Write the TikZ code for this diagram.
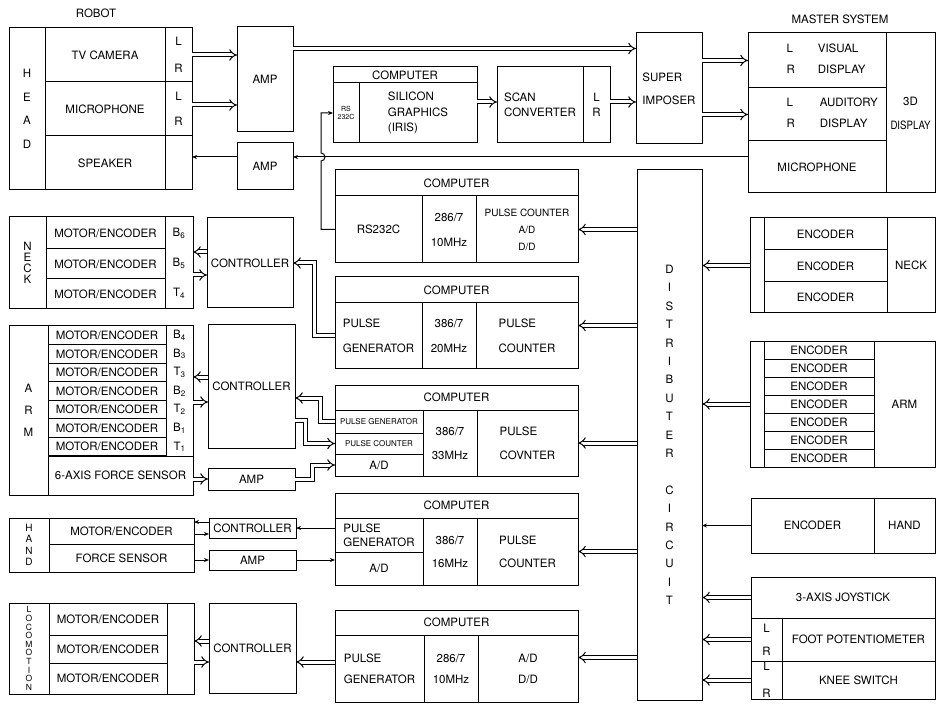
\documentclass[tikz,border=0pt]{standalone}
\usepackage{fontspec}
\usepackage{graphicx}
\setmainfont{TeX Gyre Heros}
\usetikzlibrary{arrows.meta}

\tikzset{
  cell/.style={draw, line width=1pt, inner sep=0pt, outer sep=0pt, align=center, font=\fontsize{11.5}{13}\selectfont},
  lskip/.style={font=\fontsize{11.5}{#1}\selectfont},
  smalltxt/.style={font=\fontsize{8}{9}\selectfont},
  dbl/.style={double, double distance=3pt, line width=1pt, -{Implies}},
  sgl/.style={line width=1pt, -{Stealth[length=5pt,width=4pt]}},
}

% a cell from its corners (x1,y1) (x2,y2)
\newcommand{\blk}[7][]{%
  \pgfmathsetmacro\blkw{(#5)-(#3)}%
  \pgfmathsetmacro\blkh{(#6)-(#4)}%
  \node[cell, minimum width=\blkw pt, minimum height=\blkh pt, #1] (#2) at ({((#3)+(#5))/2},{((#4)+(#6))/2}) {#7};}

\begin{document}
\begin{tikzpicture}[x=1pt, y=-1pt, font=\fontsize{11.5}{13}\selectfont]
\useasboundingbox (0,0) rectangle (937,711);

\node(robot) at (96,13) {ROBOT};
\node(master) at (840,19) {MASTER SYSTEM};

% robot head
\blk[lskip=23.5]{headlbl}{9}{28}{45}{190}{H\\E\\A\\D}
\blk{tvcam}{45}{28}{165}{82}{TV CAMERA}
\blk{mic}{45}{82}{165}{136}{MICROPHONE}
\blk{speaker}{45}{136}{165}{190}{SPEAKER}
\blk[lskip=27]{tvlr}{165}{28}{192}{82}{L\\R}
\blk[lskip=25]{miclr}{165}{82}{192}{136}{L\\R}
\blk{spklr}{165}{136}{192}{190}{}
\blk{amp1}{237}{27}{293}{132}{AMP}
\blk{amp2}{237}{143}{293}{190}{AMP}

\blk{irishd}{333}{67}{477}{83}{COMPUTER}
\blk[font=\fontsize{7}{8}\selectfont]{rs232}{333}{83}{359}{143}{RS\\232C}
\blk[lskip=15.5, align=left]{iris}{359}{83}{477}{143}{SILICON\\GRAPHICS\\(IRIS)}
\blk[lskip=15, align=left]{scan}{497}{67}{583}{143}{SCAN\\CONVERTER}
\blk[lskip=15]{scanlr}{583}{67}{610}{143}{L\\R}
\blk[lskip=23, align=left]{sup}{636}{33}{702}{144}{SUPER\\IMPOSER}

% master system
\blk{mvis}{748}{33}{886}{88}{}
\blk{maud}{748}{88}{886}{141}{}
\node(mvistxt)[anchor=west] at ([xshift=35pt]mvis.west) {\begin{tabular}{@{}l@{\hspace{23pt}}l@{}}L&VISUAL\\[8pt]R&DISPLAY\end{tabular}};
\node(maudtxt)[anchor=west] at ([xshift=35pt]maud.west) {\begin{tabular}{@{}l@{\hspace{25pt}}l@{}}L&AUDITORY\\[8pt]R&DISPLAY\end{tabular}};
\blk{mmic}{748}{141}{886}{193}{MICROPHONE}
\blk[lskip=24]{m3d}{886}{33}{935}{193}{3D\\\scalebox{.84}[1]{DISPLAY}}

% neck
\blk[lskip=11]{necklbl}{9}{217}{46}{309}{N\\E\\C\\K}
\blk{nme1}{46}{217}{165}{249}{MOTOR/ENCODER}
\blk{nme2}{46}{249}{165}{279}{MOTOR/ENCODER}
\blk{nme3}{46}{279}{165}{309}{MOTOR/ENCODER}
\blk[lskip=30]{neckb}{165}{217}{193}{309}{B\textsubscript{6}\\B\textsubscript{5}\\T\textsubscript{4}}
\blk{nctl}{207}{218}{293}{308}{CONTROLLER}

% arm
\blk[lskip=22]{armlbl}{9}{326}{48}{495}{A\\R\\M}
\foreach \j in {1,...,7}{\blk{ame\j}{48}{326+(\j-1)*18.57}{166}{326+\j*18.57}{MOTOR/ENCODER}}
\blk[lskip=18.57]{armb}{166}{326}{193}{456}{B\textsubscript{4}\\B\textsubscript{3}\\T\textsubscript{3}\\B\textsubscript{2}\\T\textsubscript{2}\\B\textsubscript{1}\\T\textsubscript{1}}
\blk{fsens}{48}{456}{193}{495}{6-AXIS FORCE SENSOR}
\blk{actl}{208}{325}{295}{448}{CONTROLLER}
\blk{aamp}{208}{468}{295}{490}{AMP}

% hand
\blk[font=\fontsize{10}{11.5}\selectfont]{handlbl}{9}{518}{49}{572}{H\\A\\N\\D}
\blk{hme}{49}{518}{194}{544}{MOTOR/ENCODER}
\blk{hfs}{49}{544}{194}{572}{FORCE SENSOR}
\blk{hctl}{209}{518}{296}{538}{CONTROLLER}
\blk{hamp}{209}{550}{296}{570}{AMP}

% locomotion
\blk[font=\fontsize{8.5}{8.6}\selectfont]{locolbl}{9}{603}{49}{694}{L\\O\\C\\O\\M\\O\\T\\I\\O\\N}
\blk{lme1}{49}{603}{167}{635}{MOTOR/ENCODER}
\blk{lme2}{49}{635}{167}{663}{MOTOR/ENCODER}
\blk{lme3}{49}{663}{167}{694}{MOTOR/ENCODER}
\blk{locoe}{167}{603}{194}{694}{}
\blk{lctl}{209}{603}{296}{693}{CONTROLLER}

% computers
\blk{c1hd}{335}{170}{578}{196}{COMPUTER}
\blk{rs1}{335}{196}{422}{263}{RS232C}
\blk[lskip=25]{cpu1}{422}{196}{476}{263}{286/7\\10MHz}
\blk[font=\fontsize{10}{17}\selectfont]{io1}{476}{196}{578}{263}{PULSE COUNTER\\A/D\\D/D}

\blk{c2hd}{335}{277}{578}{303}{COMPUTER}
\blk[lskip=25, align=left]{pg2}{335}{303}{422}{368}{PULSE\\GENERATOR}
\blk[lskip=25]{cpu2}{422}{303}{476}{368}{386/7\\20MHz}
\blk[lskip=25, align=left]{io2}{476}{303}{578}{368}{PULSE\\COUNTER}

\blk{c3hd}{335}{385}{578}{410}{COMPUTER}
\blk[smalltxt]{pg3}{335}{410}{423}{433}{PULSE GENERATOR}
\blk[smalltxt]{pc3}{335}{433}{423}{454}{PULSE COUNTER}
\blk{ad3}{335}{454}{423}{476}{A/D}
\blk[lskip=24]{cpu3}{423}{410}{477}{476}{386/7\\33MHz}
\blk[lskip=24, align=left]{io3}{477}{410}{578}{476}{PULSE\\COVNTER}

\blk{c4hd}{335}{493}{578}{518}{COMPUTER}
\blk[lskip=14, align=left]{pg4}{335}{518}{423}{552}{PULSE\\GENERATOR}
\blk{ad4}{335}{552}{423}{585}{A/D}
\blk[lskip=23]{cpu4}{423}{518}{477}{585}{386/7\\16MHz}
\blk[lskip=23, align=left]{io4}{477}{518}{578}{585}{PULSE\\COUNTER}

\blk{c5hd}{335}{610}{578}{635}{COMPUTER}
\blk[lskip=21, align=left]{pg5}{335}{635}{424}{702}{PULSE\\GENERATOR}
\blk[lskip=21]{cpu5}{424}{635}{478}{702}{286/7\\10MHz}
\blk[lskip=21]{io5}{478}{635}{578}{702}{A/D\\D/D}

\blk[lskip=18.4]{dist}{637}{170}{702}{700}{D\\I\\S\\T\\R\\I\\B\\U\\T\\E\\R\\[18.4pt]C\\I\\R\\C\\U\\I\\T}

% master side
\blk{rnbar}{750}{218}{764}{313}{}
\blk{rne1}{764}{218}{887}{250}{ENCODER}
\blk{rne2}{764}{250}{887}{282}{ENCODER}
\blk{rne3}{764}{282}{887}{313}{ENCODER}
\blk{rnlbl}{887}{218}{935}{313}{NECK}
\blk{rabar}{750}{341}{764}{467}{}
\foreach \j in {1,...,7}{\blk{rae\j}{764}{341+(\j-1)*18}{874}{341+\j*18}{ENCODER}}
\blk{ralbl}{874}{341}{935}{467}{ARM}
\blk{rhe}{751}{498}{874}{553}{ENCODER}
\blk{rhlbl}{874}{498}{935}{553}{HAND}
\blk{rjoy}{751}{577}{935}{618}{3-AXIS JOYSTICK}
\blk[lskip=23]{rflr}{751}{618}{782}{661}{L\\R}
\blk{rfoot}{782}{618}{935}{661}{FOOT POTENTIOMETER}
\blk[lskip=27]{rklr}{751}{661}{782}{699}{L\\R}
\blk{rknee}{782}{661}{935}{699}{KNEE SWITCH}

% connections
\draw[dbl] (tvlr.east) -- (tvlr.east -| amp1.west);
\draw[dbl] ([yshift=4pt]miclr.east) -- ([yshift=4pt]miclr.east -| amp1.west);
\draw[dbl] ([yshift=31pt]amp1.east) -- ([yshift=31pt]amp1.east -| sup.west);
\draw[dbl] ([yshift=11pt]iris.east) -- ([yshift=11pt]iris.east -| scan.west);
\draw[dbl] ([yshift=3pt]scanlr.east) -- ([yshift=3pt]scanlr.east -| sup.west);
\draw[dbl] (sup.east |- mvis.west) -- (mvis.west);
\draw[dbl] (sup.east |- maud.west) -- (maud.west);

\coordinate(hop) at (321,157);
\draw[sgl] (mmic.west |- hop) -- (amp2.east |- hop);
\draw[sgl] (amp2.west |- hop) -- (spklr.east |- hop);
\draw[sgl] (rs1.west) -| ([yshift=-4pt]hop) arc[start angle=-90, end angle=90, radius=4pt] |- (rs232.west);

\draw[dbl] ([yshift=11pt]nctl.west) -- ([yshift=11pt]nctl.west -| neckb.east);
\draw[dbl] ([yshift=-12pt]nctl.west -| neckb.east) -- ([yshift=-12pt]nctl.west);
\draw[dbl] (pg2.west) -- ++(-21,0) |- (nctl.east);

\draw[dbl] ([yshift=9.5pt]actl.west) -- ([yshift=9.5pt]actl.west -| armb.east);
\draw[dbl] ([yshift=-15.5pt]actl.west -| armb.east) -- ([yshift=-15.5pt]actl.west);
\draw[dbl] (aamp.west -| fsens.east) -- (aamp.west);
\draw[dbl] (pg3.west) -- ++(-15,0) |- ([yshift=-11.5pt]actl.east);
\draw[dbl] ([yshift=-33.5pt]actl.east) -- ++(10,0) |- (pc3.west);
\draw[dbl] (aamp.east) -- ++(17,0) |- (ad3.west);

\draw[sgl] ([yshift=6pt]hctl.west) -- ([yshift=6pt]hctl.west -| hme.east);
\draw[sgl] ([yshift=-6pt]hctl.west -| hme.east) -- ([yshift=-6pt]hctl.west);
\draw[sgl] (hamp.west -| hfs.east) -- (hamp.west);
\draw[sgl] (hctl.east -| pg4.west) -- (hctl.east);
\draw[sgl] (hamp.east) -- (hamp.east -| ad4.west);

\draw[dbl] ([yshift=7pt]lctl.west) -- ([yshift=7pt]lctl.west -| locoe.east);
\draw[dbl] ([yshift=-14pt]lctl.west -| locoe.east) -- ([yshift=-14pt]lctl.west);
\draw[dbl] ([yshift=-14pt]lctl.east -| pg5.west) -- ([yshift=-14pt]lctl.east);

\draw[dbl] (dist.west |- io1.east) -- (io1.east);
\draw[dbl] ([yshift=10pt]dist.west |- io2.east) -- ([yshift=10pt]io2.east);
\draw[dbl] (dist.west |- io3.east) -- (io3.east);
\draw[dbl] (dist.west |- io4.east) -- (io4.east);
\draw[dbl] ([yshift=11pt]dist.west |- io5.east) -- ([yshift=11pt]io5.east);

\draw[dbl] (rnbar.west) -- (rnbar.west -| dist.east);
\draw[dbl] (rabar.west) -- (rabar.west -| dist.east);
\draw[sgl] (rhe.west) -- (rhe.west -| dist.east);
\draw[dbl] (rjoy.west) -- (rjoy.west -| dist.east);
\draw[dbl] (rflr.west) -- (rflr.west -| dist.east);
\draw[dbl] (rklr.west) -- (rklr.west -| dist.east);
\end{tikzpicture}
\end{document}
